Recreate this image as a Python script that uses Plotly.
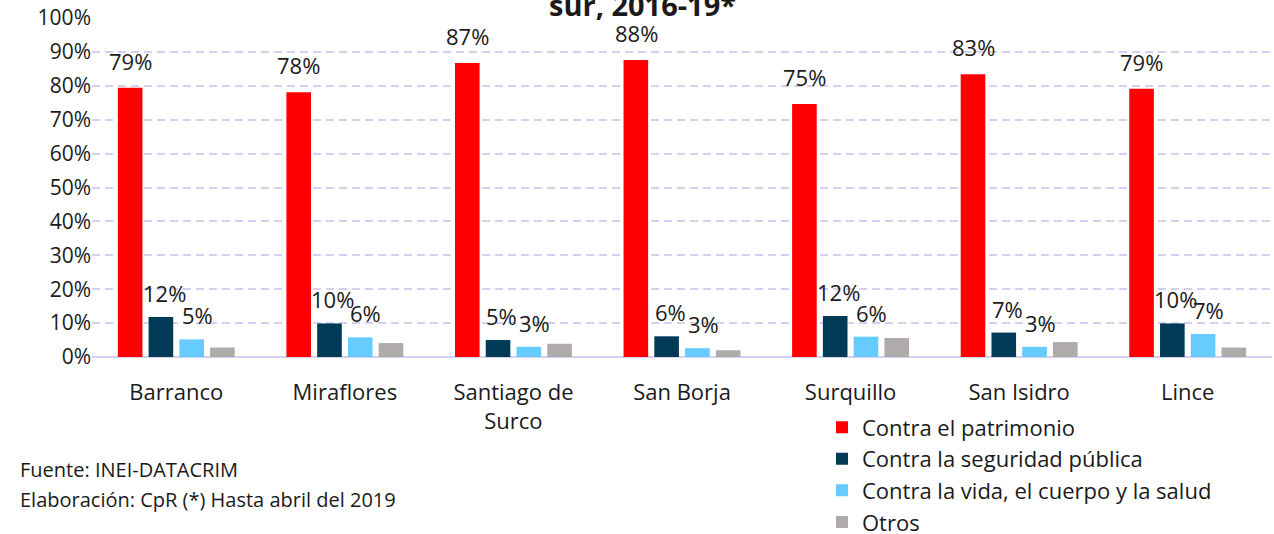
import plotly.graph_objects as go

# Distritos de Lima sur
distritos = ["Barranco", "Miraflores", "Santiago de<br>Surco", "San Borja",
             "Surquillo", "San Isidro", "Lince"]

# Participación (%) de cada tipo de delito denunciado
patrimonio = [79.4, 78.1, 86.7, 87.6, 74.6, 83.4, 79.1]
seguridad = [11.8, 9.9, 5.0, 6.1, 12.1, 7.2, 9.9]
vida = [5.2, 5.8, 3.0, 2.6, 6.0, 3.0, 6.8]
otros = [2.8, 4.1, 3.9, 2.0, 5.6, 4.4, 2.8]

series = [
    ("Contra el patrimonio", patrimonio, "#ff0000", True),
    ("Contra la seguridad pública", seguridad, "#003a57", True),
    ("Contra la vida, el cuerpo y la salud", vida, "#66ccff", True),
    ("Otros", otros, "#afabab", False),
]

FONT = "Open Sans"
TXT = "#1a1a1a"

W, H = 1274, 534
ML, MR, MT, MB = 92, 2, 17.5, 176.5
pw, ph = W - ML - MR, H - MT - MB


def px_x(px):
    return (px - ML) / pw


def px_y(py):
    return (H - MB - py) / ph


fig = go.Figure()
for name, vals, color, _ in series:
    fig.add_trace(go.Bar(
        x=distritos, y=vals, name=name,
        marker=dict(color=color, line=dict(width=0)),
        hoverinfo="x+y+name",
    ))

# Etiquetas de valor sobre las barras (desplazadas al centro de cada barra)
bar_offsets = [-46, -15, 15, 46]
label_nudge = [0, 3, 6, 0]
label_lift = [10, 7, 7, 0]
annotations = []
for k, (name, vals, color, labeled) in enumerate(series):
    if not labeled:
        continue
    for d, v in zip(distritos, vals):
        annotations.append(dict(
            x=d, y=v, xref="x", yref="y",
            text=f"{round(v)}%", showarrow=False,
            xanchor="center", yanchor="bottom",
            xshift=bar_offsets[k] + label_nudge[k], yshift=label_lift[k],
            font=dict(family=FONT, size=22, color=TXT),
        ))

# Título (última línea visible) y notas al pie
annotations += [
    dict(x=px_x(642), xref="paper", y=1, yref="paper",
         xanchor="center", yanchor="bottom",
         text="<b>sur, 2016-19*</b>", showarrow=False, yshift=-8,
         font=dict(family=FONT, size=29, color=TXT)),
    dict(x=px_x(18), y=px_y(470), xref="paper", yref="paper",
         text="Fuente: INEI-DATACRIM",
         showarrow=False, xanchor="left", yanchor="middle",
         font=dict(family=FONT, size=20, color=TXT)),
    dict(x=px_x(18), y=px_y(500), xref="paper", yref="paper",
         text="Elaboración: CpR (*) Hasta abril del 2019",
         showarrow=False, xanchor="left", yanchor="middle",
         font=dict(family=FONT, size=20, color=TXT)),
]

fig.update_layout(
    width=W, height=H,
    margin=dict(l=ML, r=MR, t=MT, b=MB, pad=0, autoexpand=False),
    paper_bgcolor="white", plot_bgcolor="white",
    barmode="group", bargap=0.27, bargroupgap=0.2,
    font=dict(family=FONT, size=21, color=TXT),
    showlegend=True,
    legend=dict(
        x=px_x(822), y=px_y(407), xanchor="left", yanchor="top",
        font=dict(family=FONT, size=22, color=TXT),
        bgcolor="rgba(0,0,0,0)", itemwidth=30, tracegroupgap=0,
    ),
    annotations=annotations,
    xaxis=dict(
        showgrid=False, showline=False, ticks="",
        ticklabelstandoff=20, automargin=False,
        tickfont=dict(family=FONT, size=22, color=TXT),
    ),
    yaxis=dict(
        range=[0, 100], dtick=10, ticksuffix="%", automargin=False,
        showgrid=True, gridcolor="#d4d0f0", griddash="8px,5px", gridwidth=1.5,
        zeroline=True, zerolinecolor="#d4d0f0", zerolinewidth=2,
        showline=False, ticks="",
        tickfont=dict(family=FONT, size=21, color=TXT),
    ),
)

fig.write_html("out.html")
